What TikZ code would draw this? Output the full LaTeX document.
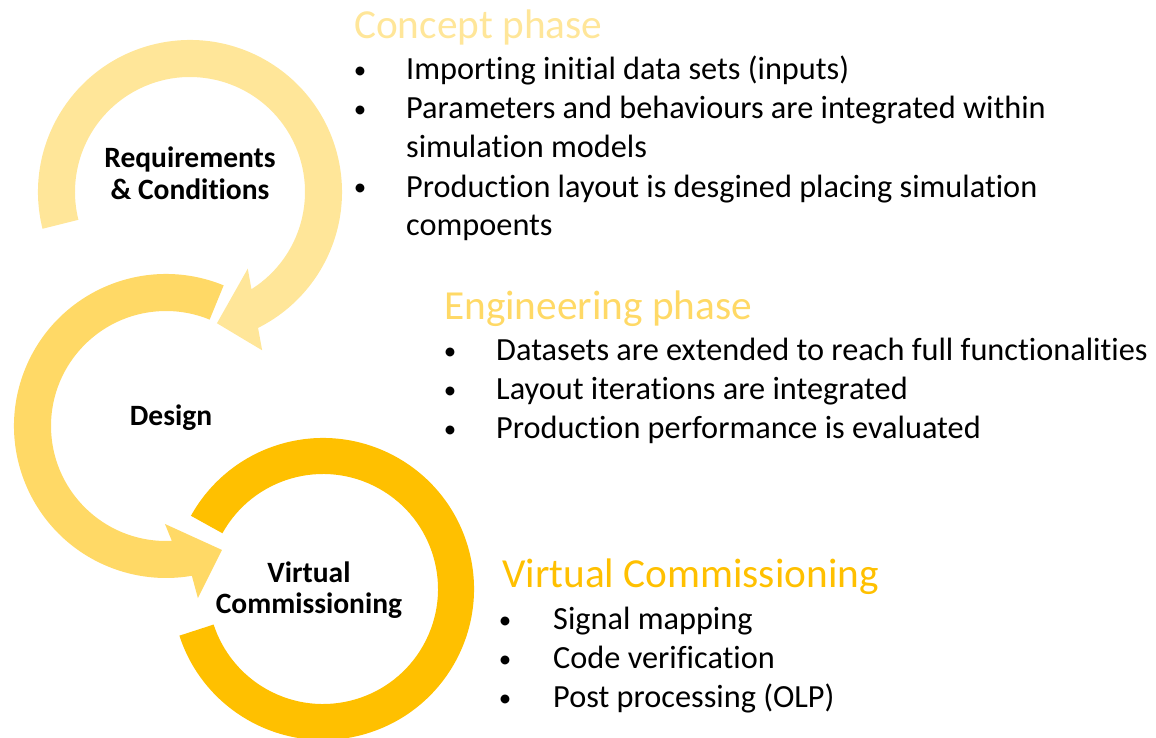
\documentclass[tikz,border=0pt]{standalone}
\usepackage{fontspec}
\setmainfont{Carlito}[Ligatures=CommonOff]
\definecolor{ringA}{HTML}{FFE699}
\definecolor{ringB}{HTML}{FFD966}
\definecolor{ringC}{HTML}{FFC000}
\begin{document}
\begin{tikzpicture}[x=1pt,y=1pt,
  phasetitle/.style={anchor=base west, inner sep=0pt, font=\fontsize{41.3}{49}\selectfont},
  bodyline/.style={anchor=base west, inner sep=0pt, font=\fontsize{32.3}{39}\selectfont},
  bulletmark/.style={anchor=base, inner sep=0pt, font=\fontsize{25}{39}\selectfont},
  ringlabel/.style={anchor=base, inner sep=0pt, font=\bfseries\fontsize{29.5}{32}\selectfont}]
\useasboundingbox (0,0) rectangle (1156,-738);
% ring 1: Requirements & Conditions
\begin{scope}[shift={(190,-192)}]
\fill[ringA] (194:152pt) arc[start angle=194, end angle=-63.4, radius=152pt]
  -- (-65.5:174pt) -- (-78.4:134pt) -- (-53:96pt) -- (-57.7:115pt)
  arc[start angle=-57.7, end angle=194, radius=115pt] -- cycle;
\end{scope}
% ring 2: Design
\begin{scope}[shift={(166,-426)}]
\fill[ringB] (67.7:152pt) arc[start angle=67.7, end angle=279.8, radius=152pt]
  -- (280.5:175pt) -- (294.3:136pt) -- (269.4:98pt) -- (272.9:115pt)
  arc[start angle=272.9, end angle=67.7, radius=115pt] -- cycle;
\end{scope}
% ring 3: Virtual Commissioning
\begin{scope}[shift={(323,-589)}]
\fill[ringC] (198:151pt) arc[start angle=198, end angle=511, radius=151pt]
  -- (511:115pt) arc[start angle=511, end angle=198, radius=115pt] -- cycle;
\end{scope}
% ring labels
\node[ringlabel] (req1) at (190,-168) {Requirements};
\node[ringlabel] (req2) at (190,-200) {\& Conditions};
\node[ringlabel] (des) at (171,-425) {Design};
\node[ringlabel] (vc1) at (309,-582) {Virtual};
\node[ringlabel] (vc2) at (309,-613) {Commissioning};
% concept phase
\node[phasetitle, text=ringA] (t1) at (354,-39) {Concept phase};
\node[bulletmark] (b11) at (360,-79) {•};
\node[bodyline] (l11) at (406,-80) {Importing initial data sets (inputs)};
\node[bulletmark] (b12) at (360,-118) {•};
\node[bodyline] (l12) at (406,-119) {Parameters and behaviours are integrated within};
\node[bodyline] (l13) at (406,-158) {simulation models};
\node[bulletmark] (b14) at (360,-196) {•};
\node[bodyline] (l14) at (406,-197) {Production layout is desgined placing simulation};
\node[bodyline] (l15) at (406,-236) {compoents};
% engineering phase
\node[phasetitle, text=ringB] (t2) at (444,-319) {Engineering phase};
\node[bulletmark] (b21) at (450,-359) {•};
\node[bodyline] (l21) at (496,-360) {Datasets are extended to reach full functionalities};
\node[bulletmark] (b22) at (450,-398) {•};
\node[bodyline] (l22) at (496,-399) {Layout iterations are integrated};
\node[bulletmark] (b23) at (450,-437) {•};
\node[bodyline] (l23) at (496,-438) {Production performance is evaluated};
% virtual commissioning
\node[phasetitle, text=ringC] (t3) at (502,-587) {Virtual Commissioning};
\node[bulletmark] (b31) at (505,-628) {•};
\node[bodyline] (l31) at (553,-629) {Signal mapping};
\node[bulletmark] (b32) at (505,-667) {•};
\node[bodyline] (l32) at (553,-668) {Code verification};
\node[bulletmark] (b33) at (505,-706) {•};
\node[bodyline] (l33) at (553,-707) {Post processing (OLP)};
\end{tikzpicture}
\end{document}
